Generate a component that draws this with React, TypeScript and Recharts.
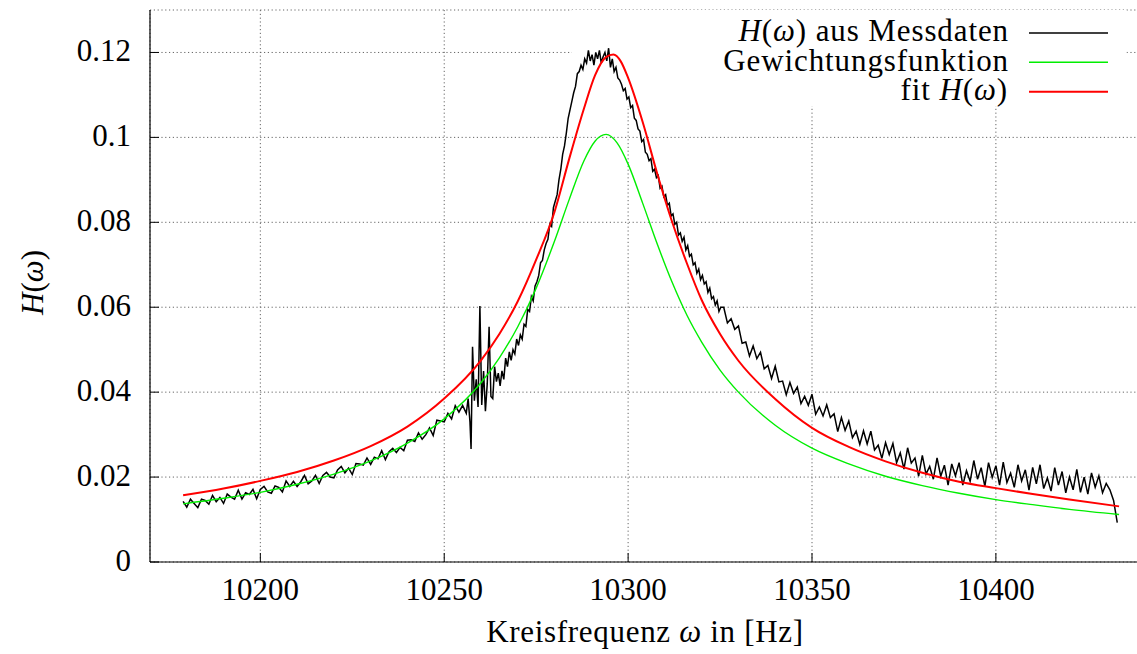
import React from 'react';
import { LineChart, Line, XAxis, YAxis, CartesianGrid, ReferenceArea } from 'recharts';

const FONT = '"Liberation Serif", "DejaVu Serif", "Times New Roman", Times, serif';

const xTicks = [10200, 10250, 10300, 10350, 10400];
const yTicks = [0, 0.02, 0.04, 0.06, 0.08, 0.1, 0.12];
const yTickLabels = ['0', '0.02', '0.04', '0.06', '0.08', '0.1', '0.12'];
const xDomain = [10170, 10440];
const yDomain = [0, 0.13];

// key (legend) background box, in axis units
const keyBox = { x1: 10284.7, x2: 10435.5, y1: 0.1074, y2: 0.13 };

// H(omega) aus Messdaten
const measuredFreq = [
  10179, 10180, 10181, 10182, 10183, 10184, 10185, 10186, 10187, 10188, 10189, 10190,
  10191, 10192, 10193, 10194, 10195, 10196, 10197, 10198, 10199, 10200, 10201, 10202,
  10203, 10204, 10205, 10206, 10207, 10208, 10209, 10210, 10211, 10212, 10213, 10214,
  10215, 10216, 10217, 10218, 10219, 10220, 10221, 10222, 10223, 10224, 10225, 10226,
  10227, 10228, 10229, 10230, 10231, 10232, 10233, 10234, 10235, 10236, 10237, 10238,
  10239, 10240, 10241, 10242, 10243, 10244, 10245, 10246, 10247, 10248, 10249, 10250,
  10251, 10252, 10253, 10254, 10255,
  10256, 10256.5, 10257, 10257.3, 10257.7, 10258.2, 10258.7, 10259.2, 10259.7, 10260.2,
  10260.7, 10261.2, 10261.7, 10262.2, 10262.7, 10263.2, 10263.7, 10264.2, 10264.7, 10265.2,
  10265.7, 10266.2, 10266.7, 10267.2, 10267.7, 10268.2, 10268.7, 10269.2, 10269.7, 10270.2,
  10270.7, 10271.2, 10271.7, 10272.2, 10272.7, 10273.2, 10273.7, 10274.2, 10274.7, 10275.2,
  10275.7, 10276.2, 10276.7, 10277.2, 10277.7, 10278.2, 10278.7, 10279.2, 10279.7, 10280.2,
  10280.7, 10281.2, 10281.7, 10282.2, 10282.7, 10283.2, 10283.7, 10284.2, 10284.7, 10285.2,
  10285.7, 10286.2, 10286.7, 10287.2, 10287.7, 10288.2, 10288.7, 10289.2, 10289.7, 10290.2,
  10290.7, 10291.2, 10291.7, 10292.2, 10292.7, 10293.2, 10293.7, 10294.2, 10294.7, 10295.2,
  10295.7, 10296.2, 10296.7, 10297.2, 10297.7, 10298.2, 10298.7, 10299.2, 10299.7, 10300.2,
  10300.7, 10301.2, 10301.7, 10302.2, 10302.7, 10303.2, 10303.7, 10304.2, 10304.7, 10305.2,
  10305.7, 10306.2, 10306.7, 10307.2, 10307.7, 10308.2, 10308.7, 10309.2, 10309.7, 10310.2,
  10310.7, 10311.2, 10311.7, 10312.2, 10312.7, 10313.2, 10313.7, 10314.2, 10314.7, 10315.2,
  10315.7, 10316.2, 10316.7, 10317.2, 10317.7, 10318.2, 10318.7, 10319.2, 10319.7, 10320.2,
  10320.7, 10321.2, 10321.7, 10322.2, 10322.7, 10323.2, 10323.7, 10324.2, 10324.7, 10325.2,
  10326, 10327, 10328, 10329, 10330, 10331, 10332, 10333, 10334, 10335, 10336, 10337,
  10338, 10339, 10340, 10341, 10342, 10343, 10344, 10345, 10346, 10347, 10348, 10349,
  10350, 10351, 10352, 10353, 10354, 10355, 10356, 10357, 10358, 10359, 10360, 10361,
  10362, 10363, 10364, 10365, 10366, 10367, 10368, 10369, 10370, 10371, 10372, 10373,
  10374, 10375, 10376, 10377, 10378, 10379, 10380, 10381, 10382, 10383, 10384, 10385,
  10386, 10387, 10388, 10389, 10390, 10391, 10392, 10393, 10394, 10395, 10396, 10397,
  10398, 10399, 10400, 10401, 10402, 10403, 10404, 10405, 10406, 10407, 10408, 10409,
  10410, 10411, 10412, 10413, 10414, 10415, 10416, 10417, 10418, 10419, 10420, 10421,
  10422, 10423, 10424, 10425, 10426, 10427, 10428, 10429, 10430, 10431, 10432, 10433,
];
const measuredH = [
  0.0143, 0.0129, 0.0148, 0.0138, 0.0128, 0.0148, 0.0145, 0.0136, 0.0157, 0.0142, 0.0152, 0.0138,
  0.0160, 0.0153, 0.0148, 0.0169, 0.0148, 0.0163, 0.0159, 0.0171, 0.0149, 0.0171, 0.0178, 0.0165,
  0.0162, 0.0179, 0.0176, 0.0165, 0.0191, 0.0178, 0.0190, 0.0178, 0.0189, 0.0204, 0.0184, 0.0191,
  0.0204, 0.0185, 0.0204, 0.0211, 0.0200, 0.0198, 0.0217, 0.0225, 0.0210, 0.0221, 0.0206, 0.0232,
  0.0231, 0.0228, 0.0245, 0.0230, 0.0247, 0.0243, 0.0262, 0.0241, 0.0260, 0.0268, 0.0258, 0.0270,
  0.0262, 0.0287, 0.0288, 0.0284, 0.0304, 0.0289, 0.0300, 0.0316, 0.0298, 0.0334, 0.0332, 0.0330,
  0.0350, 0.0337, 0.0368, 0.0353, 0.0369,
  0.0350, 0.0385, 0.0330, 0.0266, 0.0507, 0.0380, 0.0430, 0.0365, 0.0603, 0.0370,
  0.0450, 0.0355, 0.0420, 0.0554, 0.0390, 0.0385, 0.0460, 0.0425, 0.0445, 0.0415,
  0.0450, 0.0430, 0.0480, 0.0460, 0.0495, 0.0475, 0.0500, 0.0490, 0.0525, 0.0510,
  0.0535, 0.0525, 0.0560, 0.0555, 0.0595, 0.0590, 0.0625, 0.0615, 0.0650, 0.0660,
  0.0675, 0.0705, 0.0710, 0.0735, 0.0750, 0.0760, 0.0795, 0.0790, 0.0835, 0.0850,
  0.0865, 0.0900, 0.0925, 0.0960, 0.0980, 0.1010, 0.1045, 0.1065, 0.1085, 0.1105,
  0.1120, 0.1150, 0.1155, 0.1170, 0.1160, 0.1185, 0.1175, 0.1205, 0.1180, 0.1195,
  0.1170, 0.1200, 0.1185, 0.1205, 0.1175, 0.1190, 0.1200, 0.1180, 0.1210, 0.1165,
  0.1185, 0.1155, 0.1165, 0.1140, 0.1135, 0.1125, 0.1110, 0.1115, 0.1090, 0.1095,
  0.1070, 0.1075, 0.1045, 0.1040, 0.1020, 0.1015, 0.0990, 0.0995, 0.0965, 0.0960,
  0.0945, 0.0950, 0.0920, 0.0925, 0.0905, 0.0910, 0.0880, 0.0885, 0.0860, 0.0865,
  0.0840, 0.0845, 0.0815, 0.0820, 0.0795, 0.0800, 0.0770, 0.0775, 0.0755, 0.0765,
  0.0735, 0.0745, 0.0720, 0.0725, 0.0700, 0.0705, 0.0680, 0.0690, 0.0665, 0.0675,
  0.0655, 0.0660, 0.0635, 0.0645, 0.0620, 0.0625, 0.0605, 0.0615, 0.0590, 0.0600,
  0.0600, 0.0563, 0.0573, 0.0548, 0.0556, 0.0515, 0.0518, 0.0485, 0.0509, 0.0479, 0.0494, 0.0455,
  0.0463, 0.0432, 0.0461, 0.0424, 0.0426, 0.0394, 0.0423, 0.0397, 0.0412, 0.0373, 0.0390, 0.0369,
  0.0395, 0.0348, 0.0365, 0.0344, 0.0370, 0.0340, 0.0349, 0.0307, 0.0340, 0.0310, 0.0332, 0.0293,
  0.0308, 0.0277, 0.0309, 0.0278, 0.0308, 0.0264, 0.0275, 0.0244, 0.0281, 0.0253, 0.0279, 0.0234,
  0.0257, 0.0219, 0.0269, 0.0233, 0.0245, 0.0202, 0.0251, 0.0207, 0.0225, 0.0195, 0.0245, 0.0202,
  0.0228, 0.0181, 0.0231, 0.0203, 0.0234, 0.0181, 0.0215, 0.0190, 0.0239, 0.0195, 0.0222, 0.0178,
  0.0234, 0.0199, 0.0227, 0.0181, 0.0235, 0.0187, 0.0209, 0.0176, 0.0229, 0.0191, 0.0217, 0.0169,
  0.0223, 0.0184, 0.0229, 0.0173, 0.0198, 0.0167, 0.0222, 0.0181, 0.0213, 0.0163, 0.0200, 0.0170,
  0.0218, 0.0164, 0.0200, 0.0160, 0.0210, 0.0176, 0.0203, 0.0163, 0.0185, 0.0170, 0.0145, 0.0093,
];

// Gewichtungsfunktion
const weightFreq = [
  10179, 10190, 10200, 10210, 10220, 10230, 10240, 10250, 10260, 10265, 10270, 10275,
  10280, 10284, 10288, 10291, 10294, 10297, 10300, 10304, 10308, 10312, 10316, 10320,
  10325, 10330, 10340, 10350, 10360, 10370, 10380, 10390, 10400, 10410, 10420, 10433.5,
];
const weightH = [
  0.0137, 0.0150, 0.0164, 0.0183, 0.0207, 0.0238, 0.0280, 0.0337, 0.0422, 0.0481, 0.0554, 0.0645,
  0.0756, 0.0854, 0.0945, 0.0991, 0.1007, 0.0987, 0.0937, 0.0844, 0.0747, 0.0658, 0.0581, 0.0518,
  0.0452, 0.0400, 0.0322, 0.0268, 0.0231, 0.0202, 0.0180, 0.0162, 0.0147, 0.0135, 0.0124, 0.0112,
];

// fit H(omega)
const fitFreq = [
  10179, 10190, 10200, 10210, 10220, 10230, 10240, 10250, 10260, 10265, 10270, 10275,
  10280, 10284, 10288, 10291, 10294, 10296, 10298, 10300, 10304, 10308, 10312, 10316,
  10320, 10325, 10330, 10340, 10350, 10360, 10370, 10380, 10390, 10400, 10410, 10420, 10433.5,
];
const fitH = [
  0.0157, 0.0173, 0.0191, 0.0212, 0.0239, 0.0273, 0.0319, 0.0385, 0.0475, 0.0537, 0.0614, 0.0712,
  0.0825, 0.0950, 0.1068, 0.1146, 0.1189, 0.1195, 0.1179, 0.1140, 0.1035, 0.0912, 0.0800, 0.0703,
  0.0617, 0.0537, 0.0474, 0.0384, 0.0316, 0.0271, 0.0237, 0.0210, 0.0189, 0.0174, 0.0160, 0.0147, 0.0131,
];

const legendItems = ['aus Messdaten', 'Gewichtungsfunktion', 'fit'];
const xAxisTitle = ['Kreisfrequenz ', 'ω', ' in [Hz]'];

const measured = measuredFreq.map((f, i) => ({ f, h: measuredH[i] }));
const weight = weightFreq.map((f, i) => ({ f, h: weightH[i] }));
const fit = fitFreq.map((f, i) => ({ f, h: fitH[i] }));

const COLORS = { measured: '#000000', weight: '#00ee00', fit: '#ff0000' };

const textStyle: React.CSSProperties = { fontFamily: FONT, fontSize: 31 };
const wideText: React.CSSProperties = { fontFamily: FONT, fontSize: 31, letterSpacing: '0.9px' };

const XTickBottom = (p: any) => (
  <g>
    <line x1={p.x} x2={p.x} y1={p.y} y2={p.y - 9} stroke="#000" strokeWidth={1} />
    <text x={p.x} y={p.y + 38} textAnchor="middle" style={textStyle} fill="#000">
      {p.payload.value}
    </text>
  </g>
);

const XTickTop = (p: any) => (
  <g>
    <line x1={p.x} x2={p.x} y1={p.y} y2={p.y + 9} stroke="#000" strokeWidth={1} />
  </g>
);

const YTick = (p: any) => {
  const idx = yTicks.indexOf(p.payload.value);
  const label = idx >= 0 ? yTickLabels[idx] : String(p.payload.value);
  return (
    <g>
      <line x1={p.x} x2={p.x + 9} y1={p.y} y2={p.y} stroke="#000" strokeWidth={1} />
      <text x={p.x - 19} y={p.y + 8.5} textAnchor="end" style={textStyle} fill="#000">
        {label}
      </text>
    </g>
  );
};

const HOmega = () => (
  <>
    <tspan fontStyle="italic">H</tspan>
    <tspan>(</tspan>
    <tspan fontStyle="italic">ω</tspan>
    <tspan>)</tspan>
  </>
);

export default function App() {
  return (
    <div
      style={{
        position: 'absolute',
        left: 0,
        top: 0,
        width: 1137,
        height: 654,
        overflow: 'hidden',
        background: '#fff',
      }}
    >
      <LineChart width={1152} height={654} margin={{ top: 10, right: 9, bottom: 0, left: 0 }}>
        <CartesianGrid stroke="#666" strokeDasharray="1.2 2.6" strokeWidth={1} />
        <ReferenceArea
          x1={keyBox.x1}
          x2={keyBox.x2}
          y1={keyBox.y1}
          y2={keyBox.y2}
          fill="#ffffff"
          fillOpacity={1}
          stroke="none"
          ifOverflow="visible"
        />
        <XAxis
          xAxisId={0}
          type="number"
          dataKey="f"
          domain={xDomain}
          ticks={xTicks}
          allowDataOverflow
          interval={0}
          height={92}
          axisLine={{ stroke: '#000', strokeWidth: 1.2 }}
          tickLine={false}
          tickSize={0}
          tickMargin={0}
          tick={XTickBottom}
        />
        <XAxis
          xAxisId="top"
          orientation="top"
          type="number"
          dataKey="f"
          domain={xDomain}
          ticks={xTicks}
          allowDataOverflow
          interval={0}
          height={0}
          axisLine={{ stroke: '#000', strokeWidth: 1.2 }}
          tickLine={false}
          tickSize={0}
          tickMargin={0}
          tick={XTickTop}
        />
        <YAxis
          type="number"
          domain={yDomain}
          ticks={yTicks}
          allowDataOverflow
          interval={0}
          width={150}
          axisLine={{ stroke: '#000', strokeWidth: 1.2 }}
          tickLine={false}
          tickSize={0}
          tickMargin={0}
          tick={YTick}
        />
        <Line
          data={measured}
          dataKey="h"
          type="linear"
          stroke={COLORS.measured}
          strokeWidth={1.5}
          dot={false}
          activeDot={false}
          isAnimationActive={false}
        />
        <Line
          data={weight}
          dataKey="h"
          type="monotone"
          stroke={COLORS.weight}
          strokeWidth={1.4}
          dot={false}
          activeDot={false}
          isAnimationActive={false}
        />
        <Line
          data={fit}
          dataKey="h"
          type="monotone"
          stroke={COLORS.fit}
          strokeWidth={2}
          dot={false}
          activeDot={false}
          isAnimationActive={false}
        />
      </LineChart>
      <svg
        width={1137}
        height={654}
        style={{ position: 'absolute', left: 0, top: 0, pointerEvents: 'none' }}
      >
        <g fill="#000">
          <text x={1009} y={41} textAnchor="end" style={wideText}>
            <HOmega />
            <tspan> {legendItems[0]}</tspan>
          </text>
          <text x={1009} y={70.5} textAnchor="end" style={wideText}>
            {legendItems[1]}
          </text>
          <text x={1008} y={100} textAnchor="end" style={wideText}>
            <tspan>{legendItems[2]} </tspan>
            <HOmega />
          </text>
          <text x={645} y={642} textAnchor="middle" style={{ ...wideText, letterSpacing: '0.7px' }}>
            <tspan>{xAxisTitle[0]}</tspan>
            <tspan fontStyle="italic">{xAxisTitle[1]}</tspan>
            <tspan>{xAxisTitle[2]}</tspan>
          </text>
          <text
            x={43}
            y={282.5}
            textAnchor="middle"
            transform="rotate(-90, 43, 282.5)"
            style={textStyle}
          >
            <HOmega />
          </text>
        </g>
        <line x1={1029} x2={1108} y1={33} y2={33} stroke={COLORS.measured} strokeWidth={1.3} />
        <line x1={1029} x2={1108} y1={62.3} y2={62.3} stroke={COLORS.weight} strokeWidth={1.4} />
        <line x1={1029} x2={1108} y1={91.7} y2={91.7} stroke={COLORS.fit} strokeWidth={2} />
      </svg>
    </div>
  );
}
